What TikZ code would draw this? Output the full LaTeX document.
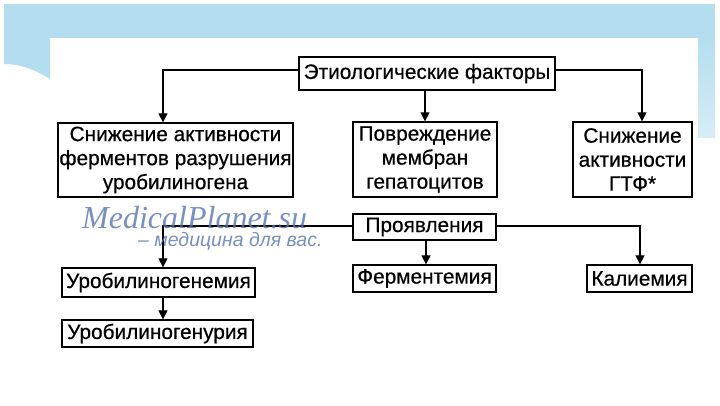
\documentclass[tikz,border=0pt]{standalone}
\usepackage{fontspec}
\setmainfont{Liberation Sans}[FakeBold=0.5]
\newfontfamily\wmserif{Liberation Serif}
\newfontfamily\wmsans{Liberation Sans}
\usetikzlibrary{arrows.meta}
\definecolor{slideblue}{RGB}{180,222,239}
\definecolor{wmblue}{RGB}{88,116,178}
\tikzset{
  box/.style={draw=black, line width=1.3pt, fill=white, align=center, inner sep=0pt,
    font=\fontsize{20.8}{24}\selectfont},
  arr/.style={draw=black, line width=1.2pt, -{Triangle[width=9pt,length=9pt]}},
}
\begin{document}
\begin{tikzpicture}[x=1pt,y=-1pt]
\useasboundingbox (0,0) rectangle (720,405);
\fill[white] (0,0) rectangle (720,405);
% slide decoration
\fill[slideblue] (4,4) rectangle (715,38);
\fill[slideblue] (4,38) -- (50,38) -- (50,79) .. controls (36,70) and (20,64) .. (4,64) -- cycle;
\shade[top color=slideblue, bottom color=slideblue!55] (698,38) rectangle (715,137);

% nodes
\node[box, minimum width=256, minimum height=33] (etio) at (427,73.5) {Этиологические факторы};
\node[box, minimum width=235, minimum height=74] (lb) at (175.5,160) {Снижение активности\\ферментов разрушения\\уробилиногена};
\node[box, minimum width=144, minimum height=75] (cb) at (425,159.5) {Повреждение\\мембран\\гепатоцитов};
\node[box, minimum width=119, minimum height=75] (rb) at (632.5,159.5) {Снижение\\активности\\ГТФ*};
\node[box, minimum width=143, minimum height=26] (pro) at (424.5,227) {Проявления};
\node[box, minimum width=193, minimum height=29] (urem) at (158.5,282.5) {Уробилиногенемия};
\node[box, minimum width=191, minimum height=27] (urur) at (157.5,333.5) {Уробилиногенурия};
\node[box, minimum width=143, minimum height=27] (ferm) at (424.5,278.5) {Ферментемия};
\node[box, minimum width=105, minimum height=27] (kal) at (639.5,278.5) {Калиемия};

% connectors
\draw[arr] ([yshift=3.5pt]etio.west) -| ([xshift=-12.5pt]lb.north);
\draw[arr] ([xshift=-2pt]etio.south) -- (cb.north);
\draw[arr] ([yshift=3.5pt]etio.east) -| ([xshift=9.5pt]rb.north);
\draw[arr] ([yshift=1pt]pro.west) -| ([xshift=4.5pt]urem.north);
\draw[arr] ([xshift=1.5pt]pro.south) -- ([xshift=1.5pt]ferm.north);
\draw[arr] ([yshift=1pt]pro.east) -| ([xshift=0.5pt]kal.north);
\draw[arr] ([xshift=4.5pt]urem.south) -- ([xshift=4.5pt]urem.south |- urur.north);

% watermark
\node[anchor=base west, inner sep=0pt, text=wmblue, opacity=0.8,
  font=\wmserif\itshape\fontsize{32}{32}\selectfont] (wm1) at (82,228) {MedicalPlanet.su};
\node[anchor=base west, inner sep=0pt, text=wmblue, opacity=0.8,
  font=\wmsans\itshape\fontsize{19.5}{19.5}\selectfont] (wm2) at (138,246) {– медицина для вас.};
\end{tikzpicture}
\end{document}
